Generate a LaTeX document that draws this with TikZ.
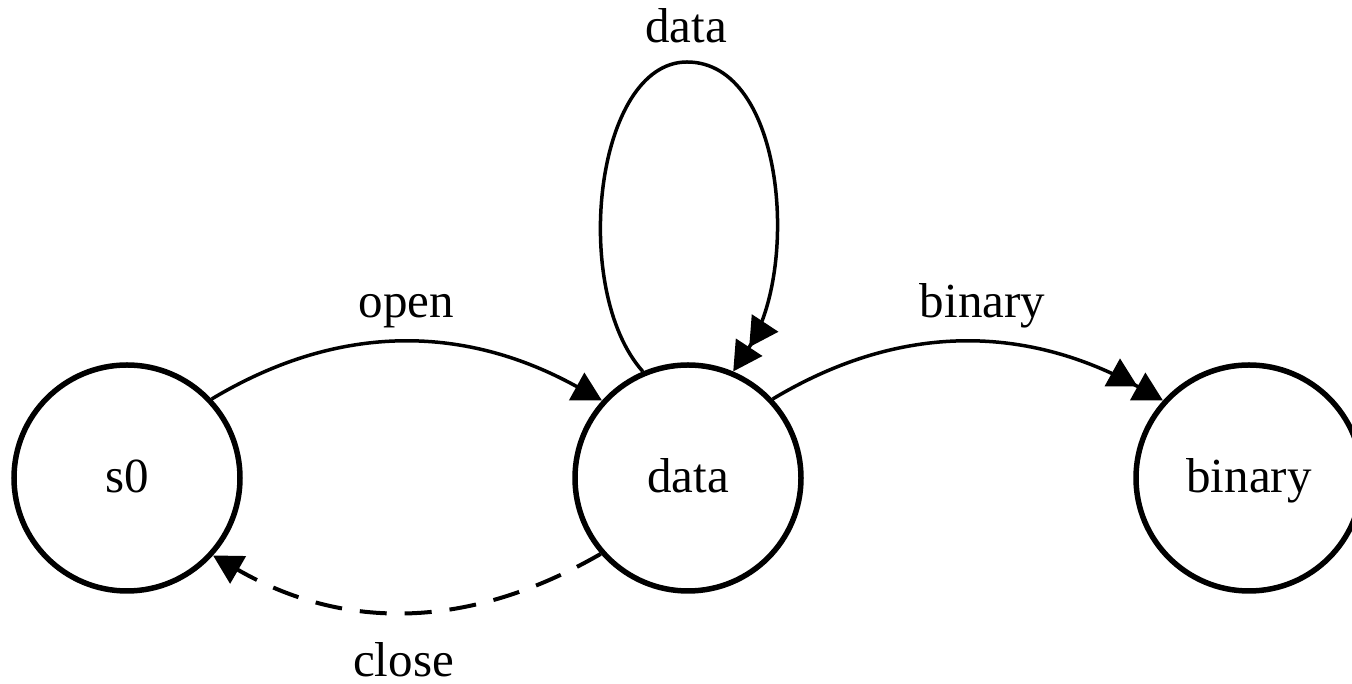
\documentclass[tikz,border=0pt]{standalone}
\usepackage{fontspec}
\setmainfont{Liberation Serif}
\usetikzlibrary{arrows.meta}
\begin{document}
\begin{tikzpicture}[x=1pt,y=1pt,
  state/.style={circle, draw, line width=5.5pt, minimum size=226pt, inner sep=0pt,
    font=\fontsize{49}{59}\selectfont, text height=30pt, text depth=0pt},
  lbl/.style={font=\fontsize{49}{59}\selectfont, anchor=base, inner sep=0pt},
  sedge/.style={line width=3.5pt, -{Triangle[length=29pt,width=31pt]}},
  dedge/.style={line width=3.5pt, -{Triangle[length=29pt,width=31pt,sep=0pt] Triangle[length=29pt,width=31pt]}},
  cedge/.style={line width=4pt, dash pattern=on 27pt off 18pt, -{Triangle[length=29pt,width=31pt]}}
]
\useasboundingbox (0,0) rectangle (1352,684);
\clip (0,0) rectangle (1352,684);
\node[state] (s0) at (127,206) {s0};
\node[state] (data) at (688,206) {data};
\node[state] (binary) at (1249,206) {binary};
\coordinate (looptop) at (687,622);
\draw[sedge] (s0.43) to[out=31,in=151] (data.138);
\draw[dedge] (data.43) to[out=31,in=151] (binary.138);
\draw[cedge] (data.221) to[out=210,in=-30] (s0.318);
\draw[dedge] (data.113) .. controls (570,394) and (595,622) .. (looptop)
  .. controls (785,622) and (800,414) .. (data.67);
\node[lbl] (lopen) at (406.5,366) {open};
\node[lbl] (lbinary) at (982.5,366) {binary};
\node[lbl] (lclose) at (403.5,7) {close};
\node[lbl] (lloop) at (686,641) {data};
\end{tikzpicture}
\end{document}
